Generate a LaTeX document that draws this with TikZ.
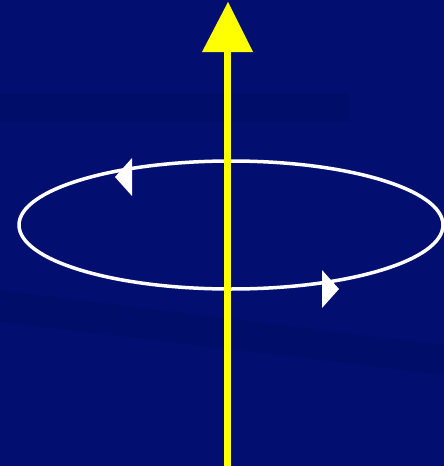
\documentclass[tikz,border=0pt]{standalone}
\definecolor{bgblue}{RGB}{2,15,112}
\definecolor{fieldyellow}{RGB}{255,255,0}
\begin{document}
\begin{tikzpicture}[x=1pt,y=-1pt,line join=round,line cap=round]
	\def\orbit{(231,225) ellipse (212 and 64)}
	\fill[bgblue] (0,0) rectangle (444,466);
	\useasboundingbox (0,0) rectangle (444,466);
	% faint bands of the background
	\fill[black,opacity=0.06] (0,93) rectangle (350,122);
	\fill[black,opacity=0.06] (0,290) -- (444,345) -- (444,375) -- (0,322) -- cycle;
	% current loop
	\draw[white,line width=3.5] \orbit;
	\fill[white] (115,177) -- (132,158) -- (132,196) -- cycle;
	\fill[white] (339,289) -- (322,270) -- (322,308) -- cycle;
	% field arrow
	\draw[fieldyellow,line width=7,line cap=butt] (227,466) -- (227,50);
	\fill[fieldyellow] (228,2) -- (202,52) -- (253,52) -- cycle;
\end{tikzpicture}
\end{document}
